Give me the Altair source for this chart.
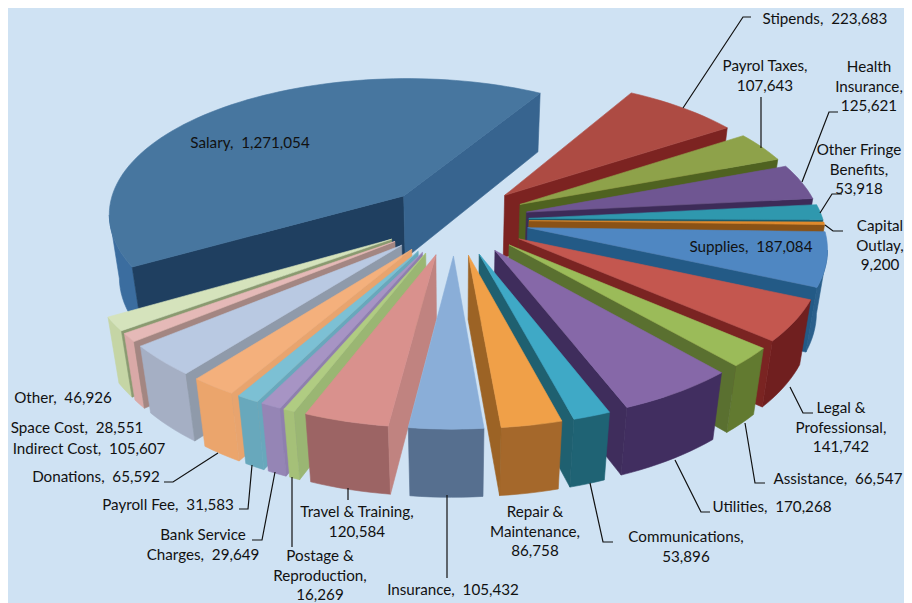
import math
import altair as alt
import pandas as pd

# ---- data ----
names = ["Salary", "Stipends", "Payrol Taxes", "Health\nInsurance", "Other Fringe\nBenefits",
         "Capital\nOutlay", "Supplies", "Legal &\nProfessionsal", "Assistance", "Utilities",
         "Communications", "Repair &\nMaintenance", "Insurance", "Travel & Training",
         "Postage &\nReproduction", "Bank Service\nCharges", "Payroll Fee", "Donations",
         "Indirect Cost", "Space Cost", "Other"]
values = [1271054, 223683, 107643, 125621, 53918, 9200, 187084, 141742, 66547, 170268,
          53896, 86758, 105432, 120584, 16269, 29649, 31583, 65592, 105607, 28551, 46926]
GAP = ", \u00a0"
separators = [GAP, GAP, ",\n", ",\n", ",\n", ",\n", GAP, ",\n", GAP, GAP, ",\n", ",\n",
              GAP, ",\n", ",\n", GAP, GAP, GAP, GAP, GAP, GAP]

# ---- styles ----
top_colors = ["#47769f", "#ad4b43", "#8ea24a", "#6f5692", "#2f98ae", "#e08a2c", "#4f87c2",
              "#c4574f", "#9bbb59", "#8668a8", "#3fa9c6", "#f0a048", "#8aaed8", "#d9918d",
              "#b0cc82", "#a794c4", "#7cc0d4", "#f4b07c", "#b9c9e2", "#e5b9b7", "#d5e3bc"]
start_edge = ["#1f3f60", "#7c2321", "#4f6220", "#3d2b58", "#1a5b6c", "#8a5216", "#235a86",
              "#7a2422", "#5a7030", "#3f2d5c", "#1f6070", "#9c6325", "#6f88aa", "#c08380",
              "#9ab673", "#8f7fae", "#68a8bc", "#e8a46e", "#8f9aaa", "#a38682", "#8a9a70"]
end_edge = ["#37648f"] + start_edge[1:]
outer_colors = ["#3b6d9f", "#7c2321", "#4f6220", "#3d2b58", "#1a5b6c", "#8a5216", "#2a5f8b",
                "#701f1f", "#627a30", "#412e60", "#1f6374", "#a5682b", "#566f8f", "#9c6464",
                "#a5c078", "#9585b5", "#68a8bc", "#eba56c", "#a5afc4", "#d9a9a7", "#c5d5a5"]
background = "#cfe2f3"
text_color = "#111111"

# ---- projection of the exploded 3-D pie ----
START_DEG = -122.0
CX, CY, AX, BY, PERSP, PERSP_X, SHEAR, EXPLODE, DEPTH, TILT, ROLL = 455, 220, 296, 139, 0.135, 0.122, 10, 0.25, 65, 0.03, 5


def project(px, py, z):
    w = 1 + PERSP * py + TILT * z
    wx = 1 + PERSP_X * py + TILT * z
    return CX + (AX * px + SHEAR * py) / wx, CY + (-BY * py + ROLL * px + DEPTH * z) / w


total = sum(values)
slices = []
cum = 0.0
for i, v in enumerate(values):
    a0 = START_DEG + cum / total * 360
    cum += v
    a1 = START_DEG + cum / total * 360
    slices.append((i, a0, a1))


def shoelace(pts):
    return sum(pts[k][0] * pts[(k + 1) % len(pts)][1] - pts[(k + 1) % len(pts)][0] * pts[k][1]
               for k in range(len(pts))) / 2


rows = []
pid = [0]


def add_poly(pts, color):
    pid[0] += 1
    name = f"p{pid[0]:05d}"
    closed = list(pts) + [pts[0]]
    for k, (x, y) in enumerate(closed):
        rows.append({"pid": name, "k": k, "x": x, "y": y, "fill": color})


def mid_y(s):
    m = math.radians((s[1] + s[2]) / 2)
    return math.cos(m)


for i, a0, a1 in sorted(slices, key=mid_y, reverse=True):
    m = math.radians((a0 + a1) / 2)
    ox, oy = EXPLODE * math.sin(m), EXPLODE * math.cos(m)
    n = max(2, int((a1 - a0) / 2) + 1)
    rim = []
    for k in range(n + 1):
        t = math.radians(a0 + (a1 - a0) * k / n)
        rim.append((ox + math.sin(t), oy + math.cos(t)))
    # outer wall: runs of rim segments that face the viewer, each one polygon
    run = []
    runs = []
    for k in range(n):
        p, q = rim[k], rim[k + 1]
        if project(*q, 0)[0] < project(*p, 0)[0]:
            if not run:
                run = [p]
            run.append(q)
        elif run:
            runs.append(run)
            run = []
    if run:
        runs.append(run)
    for run in runs:
        add_poly([project(*p, 0) for p in run] + [project(*p, 1) for p in reversed(run)], outer_colors[i])
    # the two cut faces
    for edge, col, sign in ((rim[0], start_edge[i], -1), (rim[-1], end_edge[i], 1)):
        quad = [project(ox, oy, 0), project(*edge, 0), project(*edge, 1), project(ox, oy, 1)]
        if shoelace(quad) * sign > 0:
            add_poly(quad, col)
    # top face
    add_poly([project(ox, oy, 0)] + [project(*p, 0) for p in rim], top_colors[i])

faces = pd.DataFrame(rows)

# ---- label layout ----
label_x = [250, 825, 765, 869, 859, 880, 751, 841, 838, 772, 686, 535, 453, 357, 320, 203, 168, 96, 89, 77, 63]
label_y = [143, 19, 66, 67, 150, 226, 247, 408, 479, 507, 537, 512, 590, 512, 556, 535, 505, 477, 449, 428, 398]
labels = pd.DataFrame({
    "text": [f"{n}{s}{v:,}" for n, s, v in zip(names, separators, values)],
    "x": label_x, "y": label_y})

leaders = {
    "Stipends": [(683, 108), (743, 17), (751, 17)],
    "Payrol": [(761, 148), (761, 97)],
    "Health": [(802, 182), (829, 112), (838, 112)],
    "Fringe": [(820, 213), (832, 194), (842, 194)],
    "Capital": [(825, 225), (833, 231), (843, 231)],
    "Legal": [(790, 387), (803, 413), (813, 413)],
    "Assistance": [(745, 423), (755, 483), (765, 483)],
    "Utilities": [(675, 460), (701, 512), (710, 512)],
    "Communications": [(590, 483), (603, 542), (613, 542)],
    "Insurance": [(447, 495), (447, 578)],
    "Travel": [(348, 488), (348, 500)],
    "Postage": [(292, 477), (292, 547)],
    "Bank": [(275, 472), (262, 540), (252, 540)],
    "PayrollFee": [(252, 465), (248, 509), (239, 509)],
    "Donations": [(218, 453), (173, 482), (164, 482)],
}
leader_df = pd.DataFrame([{"id": key, "k": k, "x": p[0], "y": p[1]}
                          for key, pts in leaders.items() for k, p in enumerate(pts)])

# ---- chart ----
xs = alt.Scale(domain=[8, 904], range=[0, 896])
ys = alt.Scale(domain=[8, 603], range=[0, 595])
X = alt.X("x:Q", scale=xs, axis=None)
Y = alt.Y("y:Q", scale=ys, axis=None)

poly = alt.Chart(faces).mark_line(strokeWidth=0.6, interpolate="linear", clip=True).encode(
    x=X, y=Y, order="k:Q", detail="pid:N",
    fill=alt.Fill("fill:N", scale=None), stroke=alt.Stroke("fill:N", scale=None))
lead = alt.Chart(leader_df).mark_line(color="#111111", strokeWidth=1.2).encode(
    x=X, y=Y, order="k:Q", detail="id:N")
text = alt.Chart(labels).mark_text(font="Lato", fontSize=15.2, lineBreak="\n", lineHeight=19.6,
                                   align="center", baseline="middle", color=text_color).encode(
    x=X, y=Y, text="text:N")

chart = (poly + lead + text).properties(width=896, height=595, background=background, padding=0
    ).configure_view(stroke=None)
chart.save("out.html", embed_options={"renderer": "svg", "actions": False})
